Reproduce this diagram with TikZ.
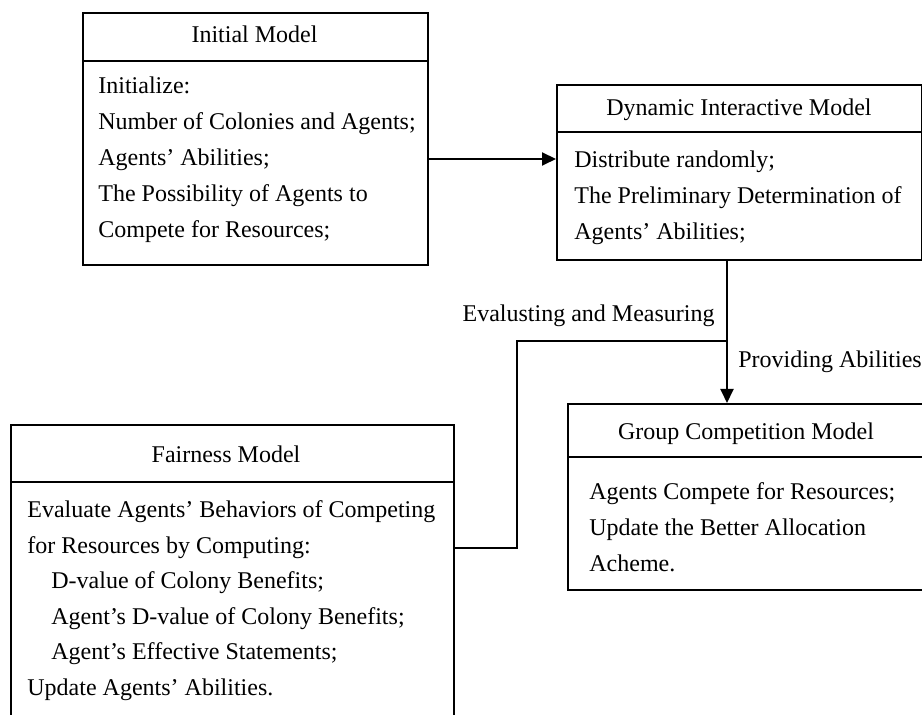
\documentclass[tikz,border=0pt]{standalone}
\usepackage{fontspec}
\setmainfont{Liberation Serif}
\usetikzlibrary{arrows.meta}
\begin{document}
\begin{tikzpicture}[x=0.5pt,y=-0.5pt,
  box/.style={draw, line width=1.2pt, rectangle, inner sep=0pt, anchor=north west},
  hdr/.style={line width=1.2pt},
  txt/.style={inner sep=0pt, anchor=base west, font=\fontsize{12}{18}\selectfont},
  ttl/.style={inner sep=0pt, anchor=base, font=\fontsize{12}{18}\selectfont},
  lbl/.style={inner sep=0pt, font=\fontsize{12}{18}\selectfont},
  conn/.style={line width=1pt},
  arr/.style={conn, -{Triangle[length=7pt,width=6.5pt]}}]
\useasboundingbox (0,0) rectangle (922,715);

% boxes
\node[box, minimum width=172.5pt, minimum height=126pt] (init) at (82,12) {};
\node[box, minimum width=182.5pt, minimum height=87.5pt] (dyn) at (556,84) {};
\node[box, minimum width=179pt, minimum height=93pt] (grp) at (567,403) {};
\node[box, minimum width=221.5pt, minimum height=158pt] (fair) at (10,424) {};

% header separators
\coordinate (hi) at (0,61);
\coordinate (hd) at (0,132);
\coordinate (hg) at (0,457);
\coordinate (hf) at (0,482);
\draw[hdr] (init.west |- hi) -- (init.east |- hi);
\draw[hdr] (dyn.west |- hd) -- (dyn.east |- hd);
\draw[hdr] (grp.west |- hg) -- (grp.east |- hg);
\draw[hdr] (fair.west |- hf) -- (fair.east |- hf);

% Initial Model
\node[ttl] (initT) at (254.5,43) {Initial Model};
\node[txt] (i1) at (98,94) {Initialize:};
\node[txt] (i2) at (98,130) {Number of Colonies and Agents;};
\node[txt] (i3) at (98,166) {Agents’ Abilities;};
\node[txt] (i4) at (98,202) {The Possibility of Agents to};
\node[txt] (i5) at (98,238) {Compete for Resources;};

% Dynamic Interactive Model
\node[ttl] (dynT) at (739,116) {Dynamic Interactive Model};
\node[txt] (d1) at (574,168) {Distribute randomly;};
\node[txt] (d2) at (574,204) {The Preliminary Determination of};
\node[txt] (d3) at (574,240) {Agents’ Abilities;};

% Group Competition Model
\node[ttl] (grpT) at (746,440) {Group Competition Model};
\node[txt] (g1) at (589,500) {Agents Compete for Resources;};
\node[txt] (g2) at (589,536) {Update the Better Allocation};
\node[txt] (g3) at (589,572) {Acheme.};

% Fairness Model
\node[ttl] (fairT) at (226,463) {Fairness Model};
\node[txt] (f1) at (27,518) {Evaluate Agents’ Behaviors of Competing};
\node[txt] (f2) at (27,554) {for Resources by Computing:};
\node[txt] (f3) at (51,589) {D-value of Colony Benefits;};
\node[txt] (f4) at (51,625) {Agent’s D-value of Colony Benefits;};
\node[txt] (f5) at (51,660) {Agent’s Effective Statements;};
\node[txt] (f6) at (27,696) {Update Agents’ Abilities.};

% labels
\node[lbl, anchor=base east] (lab1) at (715,322) {Evalusting and Measuring};
\node[lbl, anchor=base west] (lab2) at (738,368) {Providing Abilities};

% connectors
\coordinate (ya) at (0,159);
\coordinate (vx) at (727,341);
\coordinate (bx) at (517,341);
\coordinate (by) at (517,548);
\draw[arr] (init.east |- ya) -- (dyn.west |- ya);
\draw[arr] (dyn.south -| vx) -- (grp.north -| vx);
\draw[conn] (vx) -- (bx) -- (by) -- (fair.east |- by);
\end{tikzpicture}
\end{document}
